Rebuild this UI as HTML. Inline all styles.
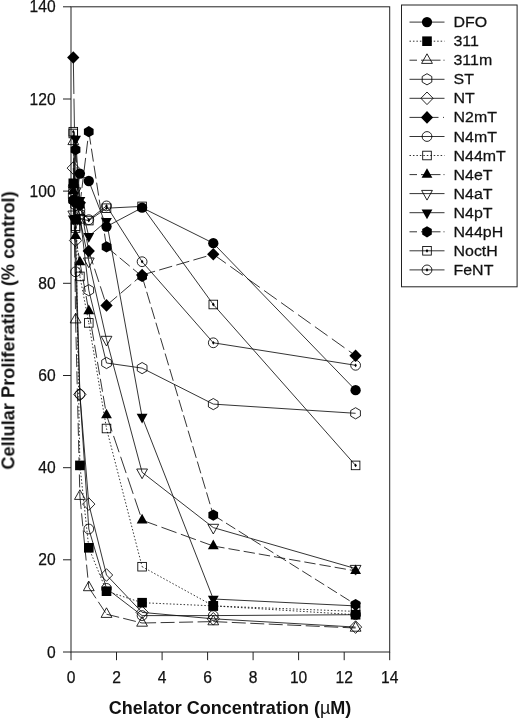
<!DOCTYPE html>
<html><head><meta charset="utf-8"><title>Chart</title>
<style>
html,body{margin:0;padding:0;background:#fff;}
body{width:520px;height:719px;position:relative;overflow:hidden;font-family:"Liberation Sans",sans-serif;}
svg text{font-family:"Liberation Sans",sans-serif;fill:#111;}
svg text.r{stroke:#111;stroke-width:0.25px;}
</style></head><body>
<svg width="520" height="719" viewBox="0 0 520 719" style="position:absolute;left:0;top:0;will-change:transform">
<g fill="none" stroke="#222" stroke-width="1">
<rect x="71.0" y="6.8" width="318.7" height="645.2"/>
<line x1="63.0" y1="652.0" x2="71.0" y2="652.0"/>
<line x1="63.0" y1="559.8" x2="71.0" y2="559.8"/>
<line x1="63.0" y1="467.7" x2="71.0" y2="467.7"/>
<line x1="63.0" y1="375.5" x2="71.0" y2="375.5"/>
<line x1="63.0" y1="283.3" x2="71.0" y2="283.3"/>
<line x1="63.0" y1="191.1" x2="71.0" y2="191.1"/>
<line x1="63.0" y1="99.0" x2="71.0" y2="99.0"/>
<line x1="63.0" y1="6.8" x2="71.0" y2="6.8"/>
<line x1="71.0" y1="652.0" x2="71.0" y2="660.2"/>
<line x1="116.5" y1="652.0" x2="116.5" y2="660.2"/>
<line x1="162.1" y1="652.0" x2="162.1" y2="660.2"/>
<line x1="207.6" y1="652.0" x2="207.6" y2="660.2"/>
<line x1="253.1" y1="652.0" x2="253.1" y2="660.2"/>
<line x1="298.6" y1="652.0" x2="298.6" y2="660.2"/>
<line x1="344.2" y1="652.0" x2="344.2" y2="660.2"/>
<line x1="389.7" y1="652.0" x2="389.7" y2="660.2"/>
</g>
<g fill="none" stroke="#111" stroke-width="0.85">
<polyline points="73.3,200.4 75.6,202.7 79.9,173.6 88.8,181.0 106.5,226.6 142.1,207.7 213.3,243.2 355.6,390.2"/>
<line x1="73.3" y1="183.3" x2="75.6" y2="219.7" stroke-dasharray="1.50 1.96"/>
<line x1="75.6" y1="219.7" x2="79.9" y2="465.4" stroke-dasharray="1.50 1.96"/>
<line x1="79.9" y1="465.4" x2="88.8" y2="547.8" stroke-dasharray="1.50 1.96"/>
<line x1="88.8" y1="547.8" x2="106.5" y2="591.2" stroke-dasharray="1.50 1.96"/>
<line x1="106.5" y1="591.2" x2="142.1" y2="602.7" stroke-dasharray="1.50 1.96"/>
<line x1="142.1" y1="602.7" x2="213.3" y2="605.9" stroke-dasharray="1.50 1.96"/>
<line x1="213.3" y1="605.9" x2="355.6" y2="614.7" stroke-dasharray="1.50 1.96"/>
<line x1="73.3" y1="141.4" x2="75.6" y2="319.7" stroke-dasharray="13.00 4.20"/>
<line x1="75.6" y1="319.7" x2="79.9" y2="496.2" stroke-dasharray="13.00 4.20"/>
<line x1="79.9" y1="496.2" x2="88.8" y2="587.5" stroke-dasharray="13.00 4.20"/>
<line x1="88.8" y1="587.5" x2="106.5" y2="614.2" stroke-dasharray="13.00 4.20"/>
<line x1="106.5" y1="614.2" x2="142.1" y2="623.0" stroke-dasharray="13.00 4.20"/>
<line x1="142.1" y1="623.0" x2="213.3" y2="621.6" stroke-dasharray="14.00 4.50"/>
<line x1="213.3" y1="621.6" x2="355.6" y2="628.0" stroke-dasharray="14.00 4.50"/>
<polyline points="73.3,195.8 75.6,205.0 79.9,214.2 88.8,290.2 106.5,363.0 142.1,368.1 213.3,404.1 355.6,413.3"/>
<polyline points="73.3,168.1 75.6,240.5 79.9,394.4 88.8,504.1 106.5,575.0 142.1,612.4 213.3,618.8 355.6,627.1"/>
<line x1="73.3" y1="57.5" x2="75.6" y2="200.4" stroke-dasharray="36.50 4.60 29.00 4.60 29.00 4.60 29.00 4.60"/>
<line x1="75.6" y1="200.4" x2="79.9" y2="202.7" stroke-dasharray="14.00 4.50"/>
<line x1="79.9" y1="202.7" x2="88.8" y2="251.1" stroke-dasharray="14.00 4.50"/>
<line x1="88.8" y1="251.1" x2="106.5" y2="305.4" stroke-dasharray="14.00 4.50"/>
<line x1="106.5" y1="305.4" x2="142.1" y2="275.0" stroke-dasharray="14.00 4.50"/>
<line x1="142.1" y1="275.0" x2="213.3" y2="254.3" stroke-dasharray="13.50 4.30"/>
<line x1="213.3" y1="254.3" x2="355.6" y2="355.7" stroke-dasharray="15.50 5.30"/>
<polyline points="73.3,191.1 75.6,271.8 79.9,394.4 88.8,529.0 106.5,588.4 142.1,615.6 213.3,615.6 355.6,614.7"/>
<line x1="73.3" y1="133.5" x2="75.6" y2="226.2" stroke-dasharray="1.50 1.96"/>
<line x1="75.6" y1="226.2" x2="79.9" y2="276.4" stroke-dasharray="1.50 1.96"/>
<line x1="79.9" y1="276.4" x2="88.8" y2="322.9" stroke-dasharray="1.50 1.96"/>
<line x1="88.8" y1="322.9" x2="106.5" y2="428.5" stroke-dasharray="1.50 1.96"/>
<line x1="106.5" y1="428.5" x2="142.1" y2="566.7" stroke-dasharray="1.50 1.96"/>
<line x1="142.1" y1="566.7" x2="213.3" y2="605.9" stroke-dasharray="1.50 1.96"/>
<line x1="213.3" y1="605.9" x2="355.6" y2="611.4" stroke-dasharray="1.50 1.96"/>
<line x1="73.3" y1="191.1" x2="75.6" y2="235.8" stroke-dasharray="13.00 4.20"/>
<line x1="75.6" y1="235.8" x2="79.9" y2="262.1" stroke-dasharray="13.00 4.20"/>
<line x1="79.9" y1="262.1" x2="88.8" y2="311.0" stroke-dasharray="13.00 4.20"/>
<line x1="88.8" y1="311.0" x2="106.5" y2="415.1" stroke-dasharray="13.00 4.20"/>
<line x1="106.5" y1="415.1" x2="142.1" y2="520.2" stroke-dasharray="17.20 4.80"/>
<line x1="142.1" y1="520.2" x2="213.3" y2="546.0" stroke-dasharray="16.00 4.60"/>
<line x1="213.3" y1="546.0" x2="355.6" y2="570.9" stroke-dasharray="11.40 4.00"/>
<polyline points="73.3,214.2 75.6,191.1 79.9,218.8 88.8,261.2 106.5,339.5 142.1,472.3 213.3,527.6 355.6,568.6"/>
<polyline points="73.3,218.8 75.6,139.1 79.9,200.4 88.8,236.3 106.5,221.1 142.1,417.0 213.3,599.0 355.6,605.9"/>
<line x1="73.3" y1="200.4" x2="75.6" y2="149.7" stroke-dasharray="13.00 4.20"/>
<line x1="75.6" y1="149.7" x2="79.9" y2="205.0" stroke-dasharray="13.00 4.20"/>
<line x1="79.9" y1="205.0" x2="88.8" y2="131.7" stroke-dasharray="13.00 4.20"/>
<line x1="88.8" y1="131.7" x2="106.5" y2="246.9" stroke-dasharray="13.00 4.20"/>
<line x1="106.5" y1="246.9" x2="142.1" y2="276.4" stroke-dasharray="13.00 4.20"/>
<line x1="142.1" y1="276.4" x2="213.3" y2="515.1" stroke-dasharray="12.30 3.80"/>
<line x1="213.3" y1="515.1" x2="355.6" y2="604.5" stroke-dasharray="11.00 4.00"/>
<polyline points="73.3,131.7 75.6,228.0 79.9,218.8 88.8,220.6 106.5,208.2 142.1,206.4 213.3,304.5 355.6,465.4"/>
<polyline points="73.3,186.5 75.6,200.4 79.9,209.6 88.8,219.7 106.5,205.9 142.1,261.7 213.3,342.8 355.6,365.3"/>
</g>
<circle cx="73.3" cy="200.4" r="5.15" fill="#000"/>
<circle cx="75.6" cy="202.7" r="5.15" fill="#000"/>
<circle cx="79.9" cy="173.6" r="5.15" fill="#000"/>
<circle cx="88.8" cy="181.0" r="5.15" fill="#000"/>
<circle cx="106.5" cy="226.6" r="5.15" fill="#000"/>
<circle cx="142.1" cy="207.7" r="5.15" fill="#000"/>
<circle cx="213.3" cy="243.2" r="5.15" fill="#000"/>
<circle cx="355.6" cy="390.2" r="5.15" fill="#000"/>
<rect x="68.5" y="178.5" width="9.6" height="9.6" fill="#000"/>
<rect x="70.8" y="214.9" width="9.6" height="9.6" fill="#000"/>
<rect x="75.1" y="460.6" width="9.6" height="9.6" fill="#000"/>
<rect x="84.0" y="543.0" width="9.6" height="9.6" fill="#000"/>
<rect x="101.7" y="586.4" width="9.6" height="9.6" fill="#000"/>
<rect x="137.3" y="597.9" width="9.6" height="9.6" fill="#000"/>
<rect x="208.5" y="601.1" width="9.6" height="9.6" fill="#000"/>
<rect x="350.8" y="609.9" width="9.6" height="9.6" fill="#000"/>
<polygon points="73.3,135.0 78.7,144.6 67.9,144.6" fill="none" stroke="#000" stroke-width="0.85"/>
<polygon points="75.6,313.3 81.0,322.9 70.2,322.9" fill="none" stroke="#000" stroke-width="0.85"/>
<polygon points="79.9,489.8 85.3,499.4 74.5,499.4" fill="none" stroke="#000" stroke-width="0.85"/>
<polygon points="88.8,581.1 94.2,590.7 83.4,590.7" fill="none" stroke="#000" stroke-width="0.85"/>
<polygon points="106.5,607.8 111.9,617.4 101.1,617.4" fill="none" stroke="#000" stroke-width="0.85"/>
<polygon points="142.1,616.6 147.5,626.2 136.7,626.2" fill="none" stroke="#000" stroke-width="0.85"/>
<polygon points="213.3,615.2 218.7,624.8 207.9,624.8" fill="none" stroke="#000" stroke-width="0.85"/>
<polygon points="355.6,621.6 361.0,631.2 350.2,631.2" fill="none" stroke="#000" stroke-width="0.85"/>
<polygon points="73.3,190.2 78.1,193.0 78.1,198.6 73.3,201.4 68.4,198.6 68.4,193.0" fill="none" stroke="#000" stroke-width="0.85"/>
<polygon points="75.6,199.4 80.4,202.2 80.4,207.8 75.6,210.6 70.7,207.8 70.7,202.2" fill="none" stroke="#000" stroke-width="0.85"/>
<polygon points="79.9,208.6 84.7,211.4 84.7,217.0 79.9,219.8 75.0,217.0 75.0,211.4" fill="none" stroke="#000" stroke-width="0.85"/>
<polygon points="88.8,284.6 93.6,287.4 93.6,293.0 88.8,295.8 83.9,293.0 83.9,287.4" fill="none" stroke="#000" stroke-width="0.85"/>
<polygon points="106.5,357.4 111.4,360.2 111.4,365.8 106.5,368.6 101.7,365.8 101.7,360.2" fill="none" stroke="#000" stroke-width="0.85"/>
<polygon points="142.1,362.5 147.0,365.3 147.0,370.9 142.1,373.7 137.3,370.9 137.3,365.3" fill="none" stroke="#000" stroke-width="0.85"/>
<polygon points="213.3,398.5 218.1,401.3 218.1,406.9 213.3,409.7 208.4,406.9 208.4,401.3" fill="none" stroke="#000" stroke-width="0.85"/>
<polygon points="355.6,407.7 360.4,410.5 360.4,416.1 355.6,418.9 350.7,416.1 350.7,410.5" fill="none" stroke="#000" stroke-width="0.85"/>
<polygon points="73.3,161.8 79.4,168.1 73.3,174.4 67.1,168.1" fill="none" stroke="#000" stroke-width="0.85"/>
<polygon points="75.6,234.2 81.7,240.5 75.6,246.8 69.4,240.5" fill="none" stroke="#000" stroke-width="0.85"/>
<polygon points="79.9,388.1 86.0,394.4 79.9,400.7 73.7,394.4" fill="none" stroke="#000" stroke-width="0.85"/>
<polygon points="88.8,497.8 94.9,504.1 88.8,510.4 82.6,504.1" fill="none" stroke="#000" stroke-width="0.85"/>
<polygon points="106.5,568.7 112.7,575.0 106.5,581.3 100.4,575.0" fill="none" stroke="#000" stroke-width="0.85"/>
<polygon points="142.1,606.1 148.3,612.4 142.1,618.7 136.0,612.4" fill="none" stroke="#000" stroke-width="0.85"/>
<polygon points="213.3,612.5 219.4,618.8 213.3,625.1 207.1,618.8" fill="none" stroke="#000" stroke-width="0.85"/>
<polygon points="355.6,620.8 361.7,627.1 355.6,633.4 349.4,627.1" fill="none" stroke="#000" stroke-width="0.85"/>
<polygon points="73.3,51.2 79.4,57.5 73.3,63.8 67.1,57.5" fill="#000"/>
<polygon points="75.6,194.1 81.7,200.4 75.6,206.7 69.4,200.4" fill="#000"/>
<polygon points="79.9,196.4 86.0,202.7 79.9,209.0 73.7,202.7" fill="#000"/>
<polygon points="88.8,244.8 94.9,251.1 88.8,257.4 82.6,251.1" fill="#000"/>
<polygon points="106.5,299.1 112.7,305.4 106.5,311.7 100.4,305.4" fill="#000"/>
<polygon points="142.1,268.7 148.3,275.0 142.1,281.3 136.0,275.0" fill="#000"/>
<polygon points="213.3,248.0 219.4,254.3 213.3,260.6 207.1,254.3" fill="#000"/>
<polygon points="355.6,349.4 361.7,355.7 355.6,362.0 349.4,355.7" fill="#000"/>
<circle cx="73.3" cy="191.1" r="4.9" fill="none" stroke="#000" stroke-width="0.85"/>
<circle cx="75.6" cy="271.8" r="4.9" fill="none" stroke="#000" stroke-width="0.85"/>
<circle cx="79.9" cy="394.4" r="4.9" fill="none" stroke="#000" stroke-width="0.85"/>
<circle cx="88.8" cy="529.0" r="4.9" fill="none" stroke="#000" stroke-width="0.85"/>
<circle cx="106.5" cy="588.4" r="4.9" fill="none" stroke="#000" stroke-width="0.85"/>
<circle cx="142.1" cy="615.6" r="4.9" fill="none" stroke="#000" stroke-width="0.85"/>
<circle cx="213.3" cy="615.6" r="4.9" fill="none" stroke="#000" stroke-width="0.85"/>
<circle cx="355.6" cy="614.7" r="4.9" fill="none" stroke="#000" stroke-width="0.85"/>
<rect x="69.0" y="129.2" width="8.6" height="8.6" fill="none" stroke="#000" stroke-width="0.85"/>
<rect x="71.3" y="221.9" width="8.6" height="8.6" fill="none" stroke="#000" stroke-width="0.85"/>
<rect x="75.6" y="272.1" width="8.6" height="8.6" fill="none" stroke="#000" stroke-width="0.85"/>
<rect x="84.5" y="318.6" width="8.6" height="8.6" fill="none" stroke="#000" stroke-width="0.85"/>
<rect x="102.2" y="424.2" width="8.6" height="8.6" fill="none" stroke="#000" stroke-width="0.85"/>
<rect x="137.8" y="562.4" width="8.6" height="8.6" fill="none" stroke="#000" stroke-width="0.85"/>
<rect x="209.0" y="601.6" width="8.6" height="8.6" fill="none" stroke="#000" stroke-width="0.85"/>
<rect x="351.3" y="607.1" width="8.6" height="8.6" fill="none" stroke="#000" stroke-width="0.85"/>
<polygon points="73.3,184.7 78.7,194.3 67.9,194.3" fill="#000"/>
<polygon points="75.6,229.4 81.0,239.0 70.2,239.0" fill="#000"/>
<polygon points="79.9,255.7 85.3,265.3 74.5,265.3" fill="#000"/>
<polygon points="88.8,304.6 94.2,314.2 83.4,314.2" fill="#000"/>
<polygon points="106.5,408.7 111.9,418.3 101.1,418.3" fill="#000"/>
<polygon points="142.1,513.8 147.5,523.4 136.7,523.4" fill="#000"/>
<polygon points="213.3,539.6 218.7,549.2 207.9,549.2" fill="#000"/>
<polygon points="355.6,564.5 361.0,574.1 350.2,574.1" fill="#000"/>
<polygon points="73.3,220.7 78.7,211.0 67.9,211.0" fill="none" stroke="#000" stroke-width="0.85"/>
<polygon points="75.6,197.6 81.0,187.9 70.2,187.9" fill="none" stroke="#000" stroke-width="0.85"/>
<polygon points="79.9,225.3 85.3,215.6 74.5,215.6" fill="none" stroke="#000" stroke-width="0.85"/>
<polygon points="88.8,267.7 94.2,258.0 83.4,258.0" fill="none" stroke="#000" stroke-width="0.85"/>
<polygon points="106.5,346.0 111.9,336.3 101.1,336.3" fill="none" stroke="#000" stroke-width="0.85"/>
<polygon points="142.1,478.7 147.5,469.0 136.7,469.0" fill="none" stroke="#000" stroke-width="0.85"/>
<polygon points="213.3,534.0 218.7,524.3 207.9,524.3" fill="none" stroke="#000" stroke-width="0.85"/>
<polygon points="355.6,575.1 361.0,565.4 350.2,565.4" fill="none" stroke="#000" stroke-width="0.85"/>
<polygon points="73.3,225.3 78.7,215.6 67.9,215.6" fill="#000"/>
<polygon points="75.6,145.5 81.0,135.8 70.2,135.8" fill="#000"/>
<polygon points="79.9,206.8 85.3,197.1 74.5,197.1" fill="#000"/>
<polygon points="88.8,242.8 94.2,233.1 83.4,233.1" fill="#000"/>
<polygon points="106.5,227.6 111.9,217.9 101.1,217.9" fill="#000"/>
<polygon points="142.1,423.4 147.5,413.7 136.7,413.7" fill="#000"/>
<polygon points="213.3,605.5 218.7,595.8 207.9,595.8" fill="#000"/>
<polygon points="355.6,612.4 361.0,602.7 350.2,602.7" fill="#000"/>
<polygon points="73.3,194.8 78.1,197.6 78.1,203.2 73.3,206.0 68.4,203.2 68.4,197.6" fill="#000"/>
<polygon points="75.6,144.1 80.4,146.9 80.4,152.5 75.6,155.3 70.7,152.5 70.7,146.9" fill="#000"/>
<polygon points="79.9,199.4 84.7,202.2 84.7,207.8 79.9,210.6 75.0,207.8 75.0,202.2" fill="#000"/>
<polygon points="88.8,126.1 93.6,128.9 93.6,134.5 88.8,137.3 83.9,134.5 83.9,128.9" fill="#000"/>
<polygon points="106.5,241.3 111.4,244.1 111.4,249.7 106.5,252.5 101.7,249.7 101.7,244.1" fill="#000"/>
<polygon points="142.1,270.8 147.0,273.6 147.0,279.2 142.1,282.0 137.3,279.2 137.3,273.6" fill="#000"/>
<polygon points="213.3,509.5 218.1,512.3 218.1,517.9 213.3,520.7 208.4,517.9 208.4,512.3" fill="#000"/>
<polygon points="355.6,598.9 360.4,601.7 360.4,607.3 355.6,610.1 350.7,607.3 350.7,601.7" fill="#000"/>
<rect x="69.0" y="127.4" width="8.6" height="8.6" fill="none" stroke="#000" stroke-width="0.85"/><polygon points="73.3,129.8 74.6,131.7 73.3,133.6 72.0,131.7" fill="#000"/>
<rect x="71.3" y="223.7" width="8.6" height="8.6" fill="none" stroke="#000" stroke-width="0.85"/><polygon points="75.6,226.1 76.9,228.0 75.6,229.9 74.3,228.0" fill="#000"/>
<rect x="75.6" y="214.5" width="8.6" height="8.6" fill="none" stroke="#000" stroke-width="0.85"/><polygon points="79.9,216.9 81.2,218.8 79.9,220.7 78.6,218.8" fill="#000"/>
<rect x="84.5" y="216.3" width="8.6" height="8.6" fill="none" stroke="#000" stroke-width="0.85"/><polygon points="88.8,218.7 90.1,220.6 88.8,222.5 87.5,220.6" fill="#000"/>
<rect x="102.2" y="203.9" width="8.6" height="8.6" fill="none" stroke="#000" stroke-width="0.85"/><polygon points="106.5,206.3 107.8,208.2 106.5,210.1 105.2,208.2" fill="#000"/>
<rect x="137.8" y="202.1" width="8.6" height="8.6" fill="none" stroke="#000" stroke-width="0.85"/><polygon points="142.1,204.5 143.4,206.4 142.1,208.3 140.8,206.4" fill="#000"/>
<rect x="209.0" y="300.2" width="8.6" height="8.6" fill="none" stroke="#000" stroke-width="0.85"/><polygon points="213.3,302.6 214.6,304.5 213.3,306.4 212.0,304.5" fill="#000"/>
<rect x="351.3" y="461.1" width="8.6" height="8.6" fill="none" stroke="#000" stroke-width="0.85"/><polygon points="355.6,463.5 356.9,465.4 355.6,467.3 354.3,465.4" fill="#000"/>
<circle cx="73.3" cy="186.5" r="4.9" fill="none" stroke="#000" stroke-width="0.85"/><polygon points="73.3,184.6 74.6,186.5 73.3,188.4 72.0,186.5" fill="#000"/>
<circle cx="75.6" cy="200.4" r="4.9" fill="none" stroke="#000" stroke-width="0.85"/><polygon points="75.6,198.5 76.9,200.4 75.6,202.3 74.3,200.4" fill="#000"/>
<circle cx="79.9" cy="209.6" r="4.9" fill="none" stroke="#000" stroke-width="0.85"/><polygon points="79.9,207.7 81.2,209.6 79.9,211.5 78.6,209.6" fill="#000"/>
<circle cx="88.8" cy="219.7" r="4.9" fill="none" stroke="#000" stroke-width="0.85"/><polygon points="88.8,217.8 90.1,219.7 88.8,221.6 87.5,219.7" fill="#000"/>
<circle cx="106.5" cy="205.9" r="4.9" fill="none" stroke="#000" stroke-width="0.85"/><polygon points="106.5,204.0 107.8,205.9 106.5,207.8 105.2,205.9" fill="#000"/>
<circle cx="142.1" cy="261.7" r="4.9" fill="none" stroke="#000" stroke-width="0.85"/><polygon points="142.1,259.8 143.4,261.7 142.1,263.6 140.8,261.7" fill="#000"/>
<circle cx="213.3" cy="342.8" r="4.9" fill="none" stroke="#000" stroke-width="0.85"/><polygon points="213.3,340.9 214.6,342.8 213.3,344.7 212.0,342.8" fill="#000"/>
<circle cx="355.6" cy="365.3" r="4.9" fill="none" stroke="#000" stroke-width="0.85"/><polygon points="355.6,363.4 356.9,365.3 355.6,367.2 354.3,365.3" fill="#000"/>
<rect x="401.5" y="5.0" width="115.60000000000002" height="281.8" fill="#fff" stroke="#222" stroke-width="1"/>
<line x1="409.5" y1="22.1" x2="444.5" y2="22.1" stroke="#111" stroke-width="0.85"/>
<circle cx="427.0" cy="22.1" r="5.15" fill="#000"/>
<text transform="translate(453.5,27.1) scale(1.03,1)" font-size="15.5" class="r">DFO</text>
<line x1="409.5" y1="41.2" x2="444.5" y2="41.2" stroke="#111" stroke-width="0.85" stroke-dasharray="1.5 1.96"/>
<rect x="422.2" y="36.4" width="9.6" height="9.6" fill="#000"/>
<text transform="translate(453.5,46.2) scale(1.03,1)" font-size="15.5" class="r">311</text>
<line x1="409.5" y1="60.2" x2="444.5" y2="60.2" stroke="#111" stroke-width="0.85" stroke-dasharray="7.5 4 19.5 3 1 10"/>
<polygon points="427.0,53.8 432.4,63.4 421.6,63.4" fill="none" stroke="#000" stroke-width="0.85"/>
<text transform="translate(453.5,65.2) scale(1.03,1)" font-size="15.5" class="r">311m</text>
<line x1="409.5" y1="79.3" x2="444.5" y2="79.3" stroke="#111" stroke-width="0.85"/>
<polygon points="427.0,73.7 431.8,76.5 431.8,82.1 427.0,84.9 422.2,82.1 422.2,76.5" fill="none" stroke="#000" stroke-width="0.85"/>
<text transform="translate(453.5,84.3) scale(1.03,1)" font-size="15.5" class="r">ST</text>
<line x1="409.5" y1="98.3" x2="444.5" y2="98.3" stroke="#111" stroke-width="0.85"/>
<polygon points="427.0,92.0 433.1,98.3 427.0,104.6 420.9,98.3" fill="none" stroke="#000" stroke-width="0.85"/>
<text transform="translate(453.5,103.3) scale(1.03,1)" font-size="15.5" class="r">NT</text>
<line x1="409.5" y1="117.4" x2="444.5" y2="117.4" stroke="#111" stroke-width="0.85" stroke-dasharray="29 4.5 1 10"/>
<polygon points="427.0,111.1 433.1,117.4 427.0,123.7 420.9,117.4" fill="#000"/>
<text transform="translate(453.5,122.4) scale(1.03,1)" font-size="15.5" class="r">N2mT</text>
<line x1="409.5" y1="136.5" x2="444.5" y2="136.5" stroke="#111" stroke-width="0.85"/>
<circle cx="427.0" cy="136.5" r="4.9" fill="none" stroke="#000" stroke-width="0.85"/>
<text transform="translate(453.5,141.5) scale(1.03,1)" font-size="15.5" class="r">N4mT</text>
<line x1="409.5" y1="155.5" x2="444.5" y2="155.5" stroke="#111" stroke-width="0.85" stroke-dasharray="1.5 1.96"/>
<rect x="422.7" y="151.2" width="8.6" height="8.6" fill="none" stroke="#000" stroke-width="0.85"/>
<text transform="translate(453.5,160.5) scale(1.03,1)" font-size="15.5" class="r">N44mT</text>
<line x1="409.5" y1="174.6" x2="444.5" y2="174.6" stroke="#111" stroke-width="0.85" stroke-dasharray="7.5 4 19.5 3 1 10"/>
<polygon points="427.0,168.2 432.4,177.8 421.6,177.8" fill="#000"/>
<text transform="translate(453.5,179.6) scale(1.03,1)" font-size="15.5" class="r">N4eT</text>
<line x1="409.5" y1="193.6" x2="444.5" y2="193.6" stroke="#111" stroke-width="0.85"/>
<polygon points="427.0,200.1 432.4,190.4 421.6,190.4" fill="none" stroke="#000" stroke-width="0.85"/>
<text transform="translate(453.5,198.6) scale(1.03,1)" font-size="15.5" class="r">N4aT</text>
<line x1="409.5" y1="212.7" x2="444.5" y2="212.7" stroke="#111" stroke-width="0.85"/>
<polygon points="427.0,219.2 432.4,209.5 421.6,209.5" fill="#000"/>
<text transform="translate(453.5,217.7) scale(1.03,1)" font-size="15.5" class="r">N4pT</text>
<line x1="409.5" y1="231.8" x2="444.5" y2="231.8" stroke="#111" stroke-width="0.85" stroke-dasharray="7.5 4 19.5 3 1 10"/>
<polygon points="427.0,226.2 431.8,229.0 431.8,234.6 427.0,237.4 422.2,234.6 422.2,229.0" fill="#000"/>
<text transform="translate(453.5,236.8) scale(1.03,1)" font-size="15.5" class="r">N44pH</text>
<line x1="409.5" y1="250.8" x2="444.5" y2="250.8" stroke="#111" stroke-width="0.85"/>
<rect x="422.7" y="246.5" width="8.6" height="8.6" fill="none" stroke="#000" stroke-width="0.85"/><polygon points="427.0,248.9 428.3,250.8 427.0,252.7 425.7,250.8" fill="#000"/>
<text transform="translate(453.5,255.8) scale(1.03,1)" font-size="15.5" class="r">NoctH</text>
<line x1="409.5" y1="269.9" x2="444.5" y2="269.9" stroke="#111" stroke-width="0.85"/>
<circle cx="427.0" cy="269.9" r="4.9" fill="none" stroke="#000" stroke-width="0.85"/><polygon points="427.0,268.0 428.3,269.9 427.0,271.8 425.7,269.9" fill="#000"/>
<text transform="translate(453.5,274.9) scale(1.03,1)" font-size="15.5" class="r">FeNT</text>
<text transform="translate(55.6,657.6)" font-size="15.6" class="r" text-anchor="end">0</text>
<text transform="translate(55.6,565.4)" font-size="15.6" class="r" text-anchor="end">20</text>
<text transform="translate(55.6,473.3)" font-size="15.6" class="r" text-anchor="end">40</text>
<text transform="translate(55.6,381.1)" font-size="15.6" class="r" text-anchor="end">60</text>
<text transform="translate(55.6,288.9)" font-size="15.6" class="r" text-anchor="end">80</text>
<text transform="translate(55.6,196.7)" font-size="15.6" class="r" text-anchor="end">100</text>
<text transform="translate(55.6,104.6)" font-size="15.6" class="r" text-anchor="end">120</text>
<text transform="translate(55.6,12.4)" font-size="15.6" class="r" text-anchor="end">140</text>
<text transform="translate(71.0,682.6)" font-size="15.6" class="r" text-anchor="middle">0</text>
<text transform="translate(116.5,682.6)" font-size="15.6" class="r" text-anchor="middle">2</text>
<text transform="translate(162.1,682.6)" font-size="15.6" class="r" text-anchor="middle">4</text>
<text transform="translate(207.6,682.6)" font-size="15.6" class="r" text-anchor="middle">6</text>
<text transform="translate(253.1,682.6)" font-size="15.6" class="r" text-anchor="middle">8</text>
<text transform="translate(298.6,682.6)" font-size="15.6" class="r" text-anchor="middle">10</text>
<text transform="translate(344.2,682.6)" font-size="15.6" class="r" text-anchor="middle">12</text>
<text transform="translate(389.7,682.6)" font-size="15.6" class="r" text-anchor="middle">14</text>
<text transform="translate(230,714.2) scale(0.985,1)" font-size="18.3" font-weight="bold" text-anchor="middle">Chelator Concentration (<tspan font-weight="normal">µ</tspan>M)</text>
<text transform="translate(14.4,330.5) rotate(-90) scale(0.992,1)" font-size="18.3" font-weight="bold" text-anchor="middle">Cellular Proliferation (% control)</text>
</svg>
</body></html>
